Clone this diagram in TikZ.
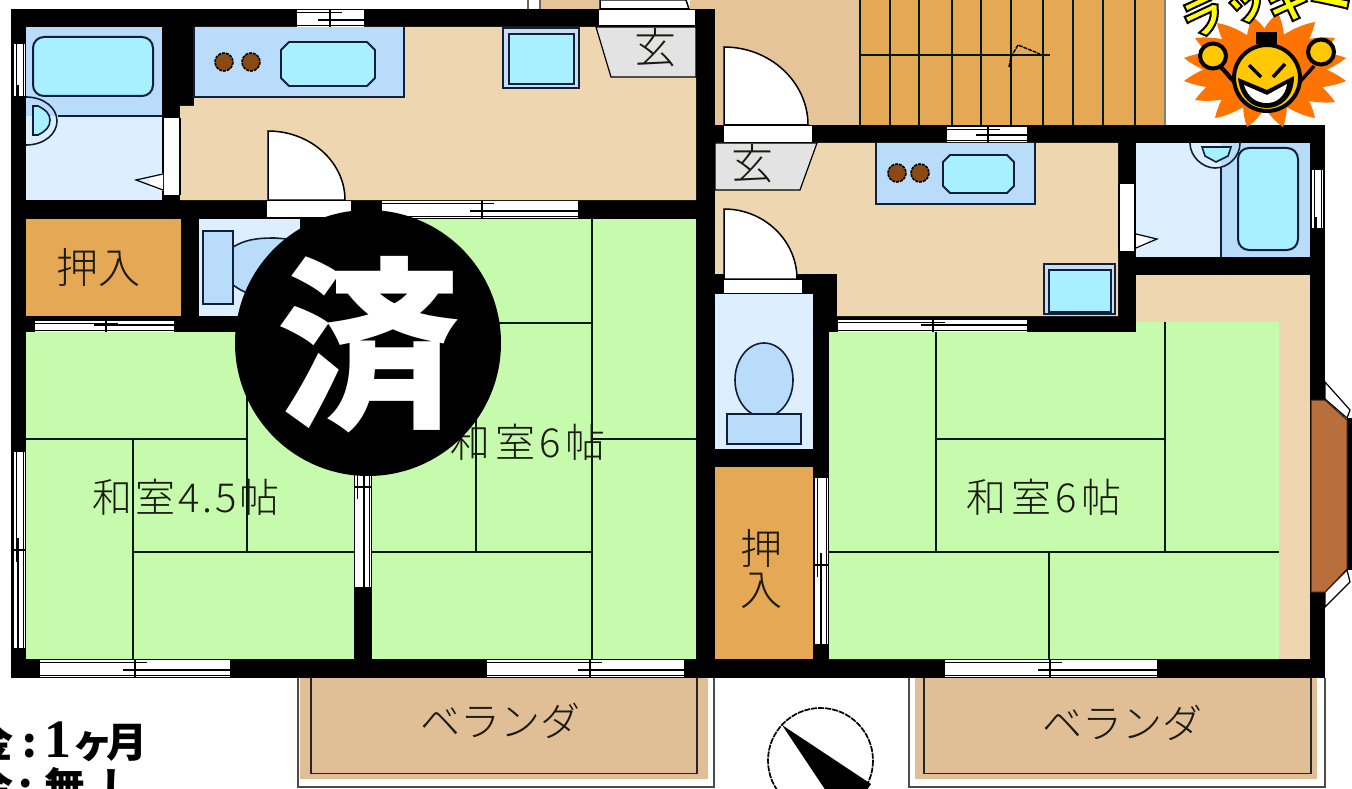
\documentclass[tikz,border=0pt]{standalone}
\usepackage{fontspec}
\setmainfont{Noto Sans CJK JP}
\newfontfamily\serifnum{Liberation Serif}
\newfontfamily\lightfont{Noto Sans CJK JP Light}
\newfontfamily\roomfont[LetterSpace=11]{Noto Sans CJK JP Light}
\newfontfamily\roomfontb[LetterSpace=7]{Noto Sans CJK JP Light}
\newfontfamily\luckyfont{Noto Sans CJK JP Black}
\definecolor{tatami}{HTML}{C6FAAC}
\definecolor{floorb}{HTML}{EED6B1}
\definecolor{hallb}{HTML}{E5C49A}
\definecolor{orangeb}{HTML}{E5A855}
\definecolor{blueb}{HTML}{B8DCFA}
\definecolor{paleb}{HTML}{DDEFFF}
\definecolor{cyanb}{HTML}{A8F0FF}
\definecolor{greyb}{HTML}{E3E3E3}
\definecolor{brownb}{HTML}{B96F3C}
\definecolor{verb}{HTML}{E0BF96}
\definecolor{sunor}{HTML}{FF7300}
\definecolor{facey}{HTML}{FFC800}
\definecolor{navy}{HTML}{10203A}
\definecolor{burner}{HTML}{8A4A12}
\definecolor{lblc}{HTML}{1A1A10}
\tikzset{
  lbl/.style={font=\lightfont\fontsize{40}{44}\selectfont, text=lblc, inner sep=0pt},
  mat/.style={line width=1.6pt, draw=black!90!green},
  fix/.style={line width=1.6pt, draw=navy},
  thinl/.style={line width=1.2pt, draw=black},
  doorl/.style={line width=1.5pt, draw=black, fill=white},
  sunpetal/.style={fill=sunor},
  lucky/.style={font=\luckyfont\fontsize{44}{48}\selectfont, text=yellow, inner sep=0pt},
  price/.style={font=\fontsize{41}{46}\bfseries\selectfont, text=black, inner sep=0pt},
}
\newcommand\outl[1]{\special{pdf:code 2 Tr 2 w 0 0 0 RG 1 1 0 rg}#1\special{pdf:code 0 Tr}}
% x1 x2 y1 y2 mid: sliding window in a horizontal wall
\newcommand\hwin[5]{%
  \fill[white] (#1,#3) rectangle (#2,#4);
  \draw[thinl] (#1,#3+2.5) -- (#5+12,#3+2.5);
  \draw[thinl] (#5-12,#4-7) -- (#2,#4-7);
  \draw[thinl] (#1,#4-1.5) -- (#2,#4-1.5);
  \draw[thinl] (#5,#3) -- (#5,#4);
}
% y1 y2 x1 x2 mid: sliding window in a vertical wall
\newcommand\vwin[5]{%
  \fill[white] (#3,#1) rectangle (#4,#2);
  \draw[thinl] (#3+2.5,#1) -- (#3+2.5,#5+12);
  \draw[thinl] (#4-7,#5-12) -- (#4-7,#2);
  \draw[thinl] (#4-1.5,#1) -- (#4-1.5,#2);
  \draw[thinl] (#3,#5) -- (#4,#5);
}
% x0 y0 x1 y1: quarter door leaf, hinge at x0,y1
\newcommand\leaf[4]{%
  \path[doorl] (#1,#4) -- (#1,#2) .. controls (#1+0.55*#3-0.55*#1,#2) and (#3,#4-0.55*#4+0.55*#2) .. (#3,#4) -- cycle;
}
% sun petal: tip x, tip y
\newcommand\petal[2]{%
  \pgfmathsetmacro\pl{veclen(#1-1265,#2-70)}%
  \pgfmathsetmacro\pa{atan2(70-#2,#1-1265)}%
  \begin{scope}[shift={(1265,70)},rotate=\pa]
    \fill[sunpetal] (0,-17) .. controls (\pl*0.6,-15) and (\pl*0.85,-7) .. (\pl,0)
      .. controls (\pl*0.85,7) and (\pl*0.6,15) .. (0,17) -- cycle;
  \end{scope}%
}
\begin{document}
\begin{tikzpicture}[x=1pt,y=-1pt]
\clip (0,0) rectangle (1352,789);
\fill[white] (0,0) rectangle (1352,789);

% outside floors at the top
\fill[hallb] (540,0) rectangle (600,9);
\fill[hallb] (690,0) rectangle (860,126);
\fill[orangeb] (860,0) rectangle (1165,126);
\draw[line width=1.2pt,black!60] (528,0) -- (528,9) (540,0) -- (540,9);
\draw[line width=1.2pt,black!50] (1165,0) -- (1165,126);
\path[doorl] (600,9) -- (600,0) -- (686,0) -- (689,9) -- cycle;

% stairs
\foreach \sx in {860,890,919,952,981,1011,1043,1073,1103,1135}
  \draw[mat] (\sx,0) -- (\sx,126);
\draw[mat] (860,55) -- (1050,55);
\draw[line width=1.4pt,black,dash pattern=on 4pt off 1pt] (1009,67) -- (1011,57) -- (1018,45) -- (1040,54);

% veranda
\draw[line width=1.6pt,black!70] (298,678) -- (298,787) -- (714,787) -- (714,678);
\fill[verb] (300,678) rectangle (708,779);
\draw[line width=1.8pt,black!85] (311,678) -- (311,773.5) -- (697,773.5) -- (697,678);
\draw[line width=1.6pt,black!70] (909,678) -- (909,787) -- (1325,787) -- (1325,678);
\fill[verb] (915,678) rectangle (1317,779);
\draw[line width=1.8pt,black!85] (924,678) -- (924,773.5) -- (1311,773.5) -- (1311,678);

% walls as one black mass
\fill[black] (11,9) rectangle (715,678);
\fill[black] (715,125) rectangle (1325,678);

% floors, left flat
\fill[blueb] (26,27) rectangle (162,116);
\fill[paleb] (26,116) rectangle (162,200);
\fill[floorb] (194,27) -- (696,27) -- (696,200) -- (180,200) -- (180,106) -- (194,106) -- cycle;
\fill[orangeb] (26,219) rectangle (181,316);
\fill[paleb] (199,219) rectangle (300,316);
\fill[tatami] (26,332) rectangle (354,659);
\fill[tatami] (372,219) rectangle (696,659);

% floors, right flat
\fill[floorb] (715,143) -- (1118,143) -- (1118,316) -- (837,316) -- (837,274) -- (715,274) -- cycle;
\fill[paleb] (715,294) rectangle (813,449);
\fill[orangeb] (715,467) rectangle (813,659);
\fill[paleb] (1136,143) rectangle (1221,257);
\fill[blueb] (1221,143) rectangle (1310,257);
\fill[floorb] (1136,275) rectangle (1310,659);
\fill[tatami] (829,332) -- (1136,332) -- (1136,322) -- (1279,322) -- (1279,659) -- (829,659) -- cycle;

% tatami lines
\draw[mat] (26,439) -- (247,439);
\draw[mat] (133,439) -- (133,659);
\draw[mat] (247,332) -- (247,552);
\draw[mat] (133,552) -- (354,552);
\draw[mat] (592,219) -- (592,659);
\draw[mat] (372,323) -- (592,323);
\draw[mat] (476,323) -- (476,552);
\draw[mat] (372,552) -- (592,552);
\draw[mat] (592,439) -- (696,439);
\draw[mat] (936,332) -- (936,552);
\draw[mat] (936,439) -- (1165,439);
\draw[mat] (1165,322) -- (1165,552);
\draw[mat] (829,552) -- (1279,552);
\draw[mat] (1049,552) -- (1049,659);

% windows
\hwin{297}{364}{10}{27}{330}
\hwin{35}{174}{321}{332}{106}
\hwin{40}{230}{660}{677}{135}
\hwin{382}{578}{201}{218}{482}
\hwin{487}{684}{660}{677}{590}
\hwin{947}{1027}{127}{142}{988}
\hwin{838}{1027}{320}{332}{933}
\hwin{945}{1157}{660}{677}{1050}
\vwin{44}{97}{14}{25}{97}
\vwin{452}{648}{14}{25}{550}
\vwin{340}{587}{355}{371}{487}
\vwin{170}{229}{1312}{1323}{229}
\vwin{478}{644}{815}{828}{565}

% sliding doors
\fill[white] (164,118) rectangle (180,195);
\draw[thinl] (163,118) -- (163,195) (180,118) -- (180,195);
\fill[white] (1120,184) rectangle (1135,251);
\draw[thinl] (1119,184) -- (1119,251);
\draw[thinl] (1135,184) -- (1135,251);

% entry and room door thresholds
\fill[white] (599,10) rectangle (695,25);
\draw[thinl] (599,26) -- (696,26);
\fill[white] (267,201) rectangle (351,217);
\draw[thinl] (270,217.5) -- (351,217.5);
\fill[white] (724,126) rectangle (812,142);
\draw[thinl] (726,142.5) -- (812,142.5);
\fill[white] (724,280) rectangle (802,293);
\draw[thinl] (726,293.5) -- (813,293.5);
\fill[black] (715,274) rectangle (724,294);
\fill[black] (802,274) rectangle (837,280);

% door leaves
\leaf{268}{131}{345}{200}
\leaf{724}{47}{808}{125}
\leaf{724}{209}{797}{279}

% entry floors
\path[fill=greyb,thinl] (596,27) -- (611,77) -- (696,77) -- (696,27) -- cycle;
\path[fill=greyb,thinl] (715,143) -- (817,143) -- (800,190) -- (715,190) -- cycle;
\fill[black] (696,27) rectangle (699,77);
\fill[black] (712,143) rectangle (715,190);

% counter, left flat
\path[fill=blueb,fix] (194,27) -- (194,97) -- (404,97) -- (404,27);
\foreach \bx in {224,251}
  \draw[fill=burner,line width=1.6pt,draw=black,dash pattern=on 3pt off 1pt] (\bx,62) circle (9);
\draw[fix,fill=cyanb,line width=1.8pt] (289,42) -- (367,42) -- (375,50) -- (375,78) -- (367,86) -- (289,86) -- (281,78) -- (281,50) -- cycle;

% stove, left flat
\draw[fix,fill=greyb!40!blueb] (503,28) rectangle (579,88);
\draw[fix,fill=cyanb,line width=2.2pt] (509,34) rectangle (574,84);

% bath, left flat
\draw[fix] (58,116) -- (162,116);
\draw[fix] (26,97) .. controls (44,97) and (57,108) .. (57,121) .. controls (57,134) and (44,145) .. (26,145);
\draw[fix,fill=cyanb] (33,106) -- (38,106) .. controls (46,110) and (50,114) .. (50,120) .. controls (50,127) and (46,131) .. (38,135) -- (33,135) -- cycle;
\draw[fix,line width=2pt,fill=cyanb,rounded corners=11pt] (33,37) rectangle (153,96);
\path[fill=white] (163,173) -- (163,191) -- (150,187) -- (150,177) -- cycle;
\draw[thinl] (163,174) -- (136,180) -- (163,190);

% toilet, left flat
\draw[fix,fill=blueb] (233,247) .. controls (245,240) and (255,238) .. (275,238) -- (300,240) -- (300,292) -- (245,292) .. controls (240,290) and (236,287) .. (233,285) -- cycle;
\draw[fix,fill=blueb] (203,231) rectangle (233,304);

% counter, right flat
\path[fill=blueb,fix] (876,143) -- (876,204) -- (1035,204) -- (1035,143);
\foreach \bx in {897,920}
  \draw[fill=burner,line width=1.6pt,draw=black,dash pattern=on 3pt off 1pt] (\bx,173) circle (9);
\draw[fix,fill=cyanb,line width=1.8pt] (950,155) -- (1007,155) -- (1014,162) -- (1014,186) -- (1007,193) -- (950,193) -- (943,186) -- (943,162) -- cycle;

% stove, right flat
\draw[fix,fill=greyb!40!blueb] (1044,264) rectangle (1115,314);
\draw[fix,fill=cyanb,line width=2.2pt] (1049,270) rectangle (1111,312);

% bath, right flat
\draw[fix] (1221,168) -- (1221,257);
\draw[fix] (1190,143) .. controls (1190,157) and (1203,168) .. (1215,168) .. controls (1228,168) and (1240,157) .. (1240,143);
\draw[fix,fill=cyanb] (1202,147) -- (1231,147) -- (1228,156) -- (1216,162) -- (1205,156) -- cycle;
\draw[fix,line width=2pt,fill=cyanb,rounded corners=11pt] (1238,148) rectangle (1298,250);
\path[fill=white] (1136,233) -- (1136,249) -- (1148,245) -- (1148,237) -- cycle;
\draw[thinl] (1136,234) -- (1157,239) -- (1136,248);

% toilet, right flat
\draw[fix,fill=blueb] (764,380) ellipse (29 and 37);
\draw[fix,fill=blueb] (727,414) rectangle (801,444);

% bay window
\path[fill=white,thinl] (1325,382) -- (1350,410) -- (1347,418) -- (1325,399) -- cycle;
\path[fill=white,thinl] (1347,570) -- (1350,582) -- (1325,607) -- (1325,592) -- cycle;
\fill[black] (1347,418) rectangle (1352,570);
\path[fill=brownb,draw=black!70!brownb,line width=1pt] (1311,400) -- (1325,400) -- (1347,420) -- (1347,569) -- (1325,592) -- (1311,592) -- cycle;

% compass
\draw[line width=1.7pt,draw=black,dash pattern=on 6pt off 1pt] (820.5,760.5) circle (52.5);
\fill[black] (782,725) -- (871,784) -- (860,800) -- (832,800) -- cycle;

% labels
\node[lbl,font=\lightfont\fontsize{42}{46}\selectfont] (closetA) at (98,267) {押入};
\node[lbl,font=\lightfont\fontsize{42}{46}\selectfont] (closetB) at (761,548) {押};
\node[lbl,font=\lightfont\fontsize{42}{46}\selectfont] (closetC) at (761,591) {入};
\node[lbl,font=\lightfont\fontsize{42}{46}\selectfont] (entryA) at (655,48) {玄};
\node[lbl,font=\lightfont\fontsize{42}{46}\selectfont] (entryB) at (752,164) {玄};
\node[lbl,font=\roomfontb\fontsize{40}{44}\selectfont] (roomA) at (186,497) {和室4.5帖};
\node[lbl,font=\roomfont\fontsize{40}{44}\selectfont] (roomB) at (528,442) {和室6帖};
\node[lbl,font=\roomfont\fontsize{40}{44}\selectfont] (roomC) at (1044,497) {和室6帖};
\node[lbl] (verandaA) at (500,721) {ベランダ};
\node[lbl] (verandaB) at (1122,723) {ベランダ};

% sold stamp
\fill[black] (368,343) circle (133);
\node[inner sep=0pt,text=white,font=\fontsize{184}{190}\bfseries\selectfont] (sold) at (368,345) {済};

% deposit text, cut by the page edge
\node[price,anchor=base east] (priceA) at (148,757) {金\hspace{9pt}:\hspace{8pt}{\serifnum\fontsize{54}{54}\selectfont 1}\hspace{1pt}ヶ\hspace{-7pt}月};
\node[price,anchor=base east] (priceB) at (141,802) {金\hspace{5pt}:\hspace{12pt}無\hspace{14pt}し};

% lucky sticker
\foreach \tx/\ty in {1184/58,1184/81,1253/17,1278/13,1315/22,1217/23,1195/38,1195/100,1215/118,1247/127,1283/127,1315/118,1335/102,1335/38,1346/58,1346/81}
  \petal{\tx}{\ty}
\draw[line width=3.5pt,draw=black] (1220,66) -- (1236,84);
\draw[line width=3.5pt,draw=black] (1314,66) -- (1298,84);
\draw[fill=facey,line width=4pt,draw=black] (1213,56) ellipse (13 and 12.5);
\draw[fill=facey,line width=4pt,draw=black] (1321,52) ellipse (13 and 12.5);
\fill[black] (1256,32) rectangle (1277,44);
\draw[fill=facey,line width=4pt,draw=black] (1267,78) circle (33);
\draw[line width=3.5pt,draw=black] (1249,65) -- (1261,77);
\draw[line width=3.5pt,draw=black] (1285,64) -- (1273,77);
\fill[black] (1238,78) -- (1267,90) -- (1294,76) .. controls (1294,98) and (1280,108) .. (1267,108) .. controls (1252,108) and (1240,98) .. (1238,78) -- cycle;
\fill[white] (1244,85) -- (1267,95) -- (1287,84) .. controls (1285,97) and (1276,103) .. (1267,103) .. controls (1256,103) and (1248,97) .. (1244,85) -- cycle;
\node[lucky,rotate=25] (luckyA) at (1203,17) {\outl{ラ}};
\node[lucky,rotate=22] (luckyB) at (1248,7) {\outl{ッ}};
\node[lucky,rotate=15] (luckyC) at (1288,2) {\outl{キ}};
\node[lucky,rotate=-12] (luckyD) at (1329,7) {\outl{ー}};
\end{tikzpicture}
\end{document}
